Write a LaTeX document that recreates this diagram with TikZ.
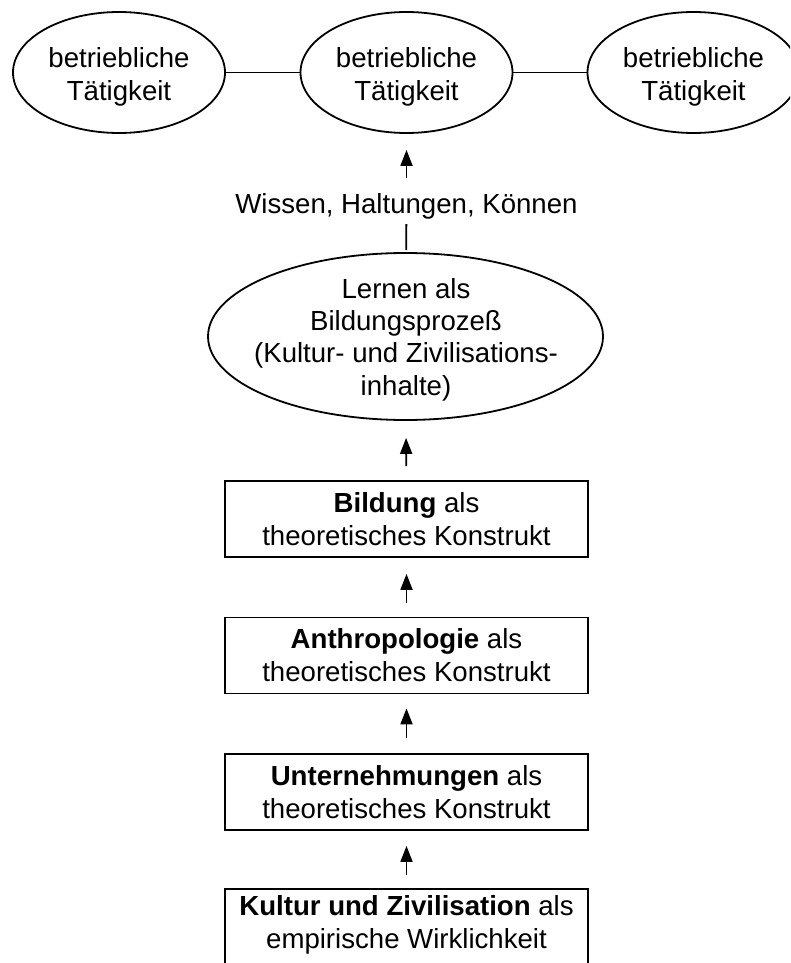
\documentclass[tikz,border=0pt]{standalone}
\usepackage{fontspec}
\setmainfont{Liberation Sans}
\usetikzlibrary{shapes.geometric,arrows.meta}
\begin{document}
\begin{tikzpicture}[x=1pt,y=-1pt,
  every node/.style={font=\fontsize{27.6}{33}\selectfont, inner sep=0pt, align=center},
  activity/.style={ellipse, draw, line width=1.8pt, minimum width=212pt, minimum height=121pt},
  learning/.style={ellipse, draw, line width=1.8pt, minimum width=395pt, minimum height=167pt},
  construct/.style={rectangle, draw, line width=1.8pt, minimum width=363pt, minimum height=76pt},
  link/.style={line width=1.8pt},
  up/.style={line width=1.8pt, -{Triangle[width=12pt,length=16pt]}}]
\useasboundingbox (0,0) rectangle (790,963);
\clip (0,0) rectangle (790,963);

% row of operational activities
\node[activity] (t1) at (119,72.5)   {};
\node[activity] (t2) at (406.5,72.5) {};
\node[activity] (t3) at (693.5,72.5) {};
\node (t1text) at (119,76.5)   {betriebliche\\Tätigkeit};
\node (t2text) at (406.5,76.5) {betriebliche\\Tätigkeit};
\node (t3text) at (693.5,76.5) {betriebliche\\Tätigkeit};
\draw[link] (t1) -- (t2);
\draw[link] (t2) -- (t3);

% outcome of learning
\node (wissen) at (406.5,206) {Wissen, Haltungen, Können};

% learning process
\node[learning] (lern) at (405.5,336.5) {};
\node[font=\fontsize{27.6}{32.3}\selectfont] (lerntext) at (406,339.5)
  {Lernen als\\Bildungsprozeß\\(Kultur- und Zivilisations-\\inhalte)};

% stack of constructs
\node[construct] (bild) at (406.5,519)   {\textbf{Bildung} als\\theoretisches Konstrukt};
\node[construct] (anth) at (406.5,655.5) {\textbf{Anthropologie} als\\theoretisches Konstrukt};
\node[construct] (unt)  at (406.5,792)   {\textbf{Unternehmungen} als\\theoretisches Konstrukt};
\node[construct] (kult) at (406.5,927)   {};
\node (kulttext) at (406.5,924.5) {\textbf{Kultur und Zivilisation} als\\empirische Wirklichkeit};

% connectors
\draw[up, shorten <=15pt, shorten >=16pt] (wissen) -- (t2);
\draw[link, shorten <=5pt, shorten >=2pt] (wissen) -- (lern);
\draw[up, shorten <=14pt, shorten >=17pt] (bild) -- (lern);
\draw[up, shorten <=14pt, shorten >=16pt] (anth) -- (bild);
\draw[up, shorten <=15pt, shorten >=14pt] (unt) -- (anth);
\draw[up, shorten <=13pt, shorten >=15pt] (kult) -- (unt);
\end{tikzpicture}
\end{document}
